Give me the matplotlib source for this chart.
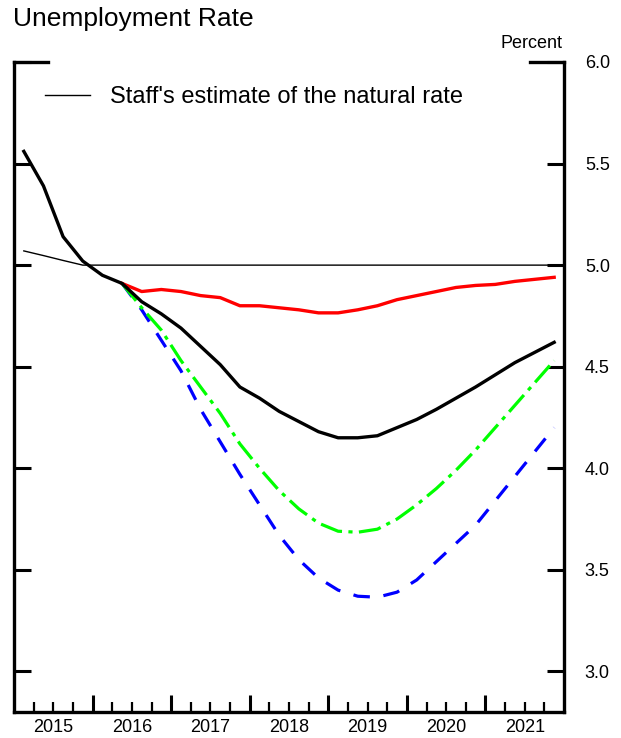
import matplotlib
matplotlib.use("Agg")
import matplotlib.pyplot as plt
from matplotlib.lines import Line2D
import numpy as np

plt.rcParams['font.family'] = ['Liberation Sans', 'DejaVu Sans']

# Quarterly data, 2015Q1 .. 2021Q4
quarters = [2015 + (i + 0.5) / 4 for i in range(28)]

baseline = [5.56, 5.39, 5.14, 5.02, 4.95, 4.91, 4.82, 4.76, 4.69, 4.60,
            4.51, 4.40, 4.345, 4.28, 4.23, 4.18, 4.15, 4.15, 4.16, 4.20,
            4.24, 4.29, 4.345, 4.40, 4.46, 4.52, 4.57, 4.62]

# alternative scenarios start at 2016Q2 (index 5)
alt_start = 5
red_vals = [4.91, 4.87, 4.88, 4.87, 4.85, 4.84, 4.80, 4.80, 4.79, 4.78,
            4.765, 4.765, 4.78, 4.80, 4.83, 4.85, 4.87, 4.89, 4.90, 4.905,
            4.92, 4.93, 4.94]
green_vals = [4.91, 4.79, 4.68, 4.53, 4.40, 4.27, 4.12, 4.00, 3.89, 3.80,
              3.73, 3.69, 3.685, 3.70, 3.75, 3.82, 3.90, 3.99, 4.09, 4.20,
              4.31, 4.42, 4.53]
blue_vals = [4.91, 4.78, 4.63, 4.48, 4.29, 4.13, 3.97, 3.82, 3.67, 3.55,
             3.46, 3.40, 3.37, 3.365, 3.39, 3.45, 3.54, 3.63, 3.72, 3.84,
             3.96, 4.08, 4.20]

natural_rate = [5.07, 5.047, 5.023, 5.0] + [5.0] * 24

years = [2015, 2016, 2017, 2018, 2019, 2020, 2021]
ytick_vals = [3.0, 3.5, 4.0, 4.5, 5.0, 5.5, 6.0]

W, H = 621, 738
fig = plt.figure(figsize=(W / 100, H / 100), dpi=100)
ax = fig.add_axes([14 / W, 1 - 712 / H, (564 - 14) / W, (712 - 62) / H])

alt_x = quarters[alt_start:]
ax.plot(quarters, natural_rate, color='black', lw=1.0, zorder=2)
ax.plot(alt_x, blue_vals, color='#0000FF', lw=2.3,
        linestyle=(0, (5.2, 4.3)), zorder=3)
ax.plot(alt_x, green_vals, color='#00FF00', lw=2.3,
        linestyle=(0, (7, 2, 1.3, 2)), zorder=4)
ax.plot(alt_x, red_vals, color='#FF0000', lw=2.4, zorder=5)
ax.plot(quarters, baseline, color='black', lw=2.4, zorder=6)

ax.set_xlim(2015, 2022)
ax.set_ylim(2.8, 6.0)

for s in ['left', 'right', 'bottom']:
    ax.spines[s].set_linewidth(2.4)
ax.spines['top'].set_visible(False)

# top corner brackets at 6.0
ax.axhline(6.0, xmin=0, xmax=0.062, color='black', lw=2.4, clip_on=False)
ax.axhline(6.0, xmin=0.938, xmax=1, color='black', lw=2.4, clip_on=False)

ax.set_yticks(ytick_vals)
ax.set_yticklabels([f"{v:.1f}" for v in ytick_vals])
ax.tick_params(axis='y', which='both', left=True, right=True,
               labelleft=False, labelright=True, direction='in',
               length=12, width=2.2, pad=15, labelsize=13)

ax.set_xticks([y for y in range(2016, 2022)])
ax.set_xticks([y + q / 4 for y in range(2015, 2022) for q in (1, 2, 3)], minor=True)
ax.tick_params(axis='x', which='major', direction='in', length=12, width=2.2,
               labelbottom=False, top=False)
ax.tick_params(axis='x', which='minor', direction='in', length=7, width=1.6,
               labelbottom=False, top=False)

sec = ax.secondary_xaxis('bottom')
sec.set_xticks([y + 0.5 for y in years])
sec.set_xticklabels([str(y) for y in years])
sec.tick_params(axis='x', length=0, pad=5, labelsize=13)
sec.spines['bottom'].set_visible(False)

handle = Line2D([], [], color='black', lw=1.0)
ax.legend([handle], ["Staff's estimate of the natural rate"],
          loc='center left', bbox_to_anchor=(45 / W, 1 - 97 / H),
          bbox_transform=fig.transFigure, frameon=False, borderpad=0,
          borderaxespad=0, handlelength=1.9, handletextpad=0.85, fontsize=17)

fig.text(13 / W, 1 - 7 / H, "Unemployment Rate", fontsize=19, va='top', ha='left')
fig.text(563 / W, 1 - 44 / H, "Percent", fontsize=13, va='center', ha='right')

fig.savefig("out.png", dpi=100)
